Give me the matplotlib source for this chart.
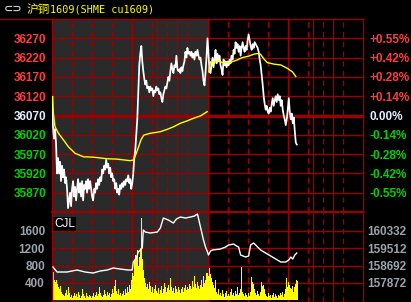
import matplotlib
matplotlib.use('Agg')
import matplotlib.pyplot as plt
import numpy as np
from matplotlib.lines import Line2D

# ---------------- data ----------------
title = '沪铜1609(SHME cu1609)'
ref_price = 36070
price_ticks = [35870, 35920, 35970, 36020, 36070, 36120, 36170, 36220, 36270]
vol_ticks = [400, 800, 1200, 1600]
oi_ticks = [157872, 158692, 159512, 160332]

day_len = 465                       # minutes per trading day (night + day session)
solid_marks = [240, 315, 375]       # session breaks within one day (minutes)
dashed_marks = [60, 120, 180, 300, 345, 405]
bar_minutes = 3

price_day1 = [36115, 36040, 36010, 36035, 36000, 35920, 35960, 35920, 35950, 35900,
              35940, 35910, 35930, 35895, 35910, 35880, 35830, 35850, 35870, 35835,
              35880, 35900, 35860, 35885, 35850, 35880, 35905, 35870, 35895, 35860,
              35900, 35850, 35890, 35880, 35900, 35870, 35905, 35880, 35900, 35880,
              35860, 35850, 35880, 35870, 35895, 35880, 35905, 35890, 35910, 35900,
              35930, 35920, 35940, 35930, 35955, 35935, 35945, 35920, 35935, 35910,
              35920, 35900, 35905, 35880, 35895, 35870, 35880, 35865, 35890, 35880,
              35895, 35885, 35900, 35890, 35905, 35900, 35915, 35895, 35905, 35880,
              35895, 35920, 35960, 35980, 36020, 36060, 36130, 36200, 36230, 36250,
              36210, 36185, 36165, 36150, 36160, 36140, 36145, 36130, 36145, 36135,
              36140, 36120, 36135, 36130, 36145, 36135, 36140, 36125, 36130, 36115,
              36105, 36125, 36135, 36145, 36140, 36155, 36170, 36160, 36185, 36205,
              36190, 36180, 36200, 36195, 36225, 36190, 36185, 36190, 36180, 36195,
              36185, 36200, 36210, 36235, 36220, 36245, 36230, 36235, 36225, 36235,
              36220, 36230, 36215, 36235, 36225, 36240, 36225, 36215, 36220, 36200,
              36185, 36160, 36148, 36180, 36220, 36270]
price_day2 = [36230, 36185, 36180, 36200, 36220, 36195, 36215, 36240, 36205, 36230,
              36210, 36225, 36200, 36190, 36175, 36215, 36200, 36210, 36195, 36210,
              36200, 36215, 36205, 36225, 36215, 36240, 36230, 36260, 36245, 36255,
              36235, 36250, 36225, 36245, 36260, 36245, 36235, 36250, 36240, 36265,
              36280, 36265, 36250, 36240, 36255, 36245, 36260, 36255, 36250, 36245,
              36235, 36215, 36200, 36175, 36150, 36120, 36100, 36085, 36095, 36080,
              36075, 36090, 36080, 36100, 36115, 36095, 36110, 36120, 36105, 36125,
              36110, 36120, 36095, 36110, 36085, 36070, 36060, 36045, 36060, 36085,
              36115, 36080, 36060, 36075, 36050, 36065, 36030, 36000, 35995]

avg1_t = [2, 4, 9, 19, 34, 49, 69, 94, 124, 164, 194, 234, 244, 252, 259, 266, 274,
          294, 324, 344, 364, 384, 404, 424, 444, 464]
avg1_p = [36119, 36076, 36041, 36024, 36007, 35989, 35972, 35963, 35962, 35958, 35957,
          35953, 35955, 35972, 35989, 36007, 36019, 36024, 36028, 36034, 36041, 36050,
          36056, 36063, 36069, 36080]
avg2_t = [469, 474, 483, 499, 509, 519, 534, 554, 569, 589, 604, 619, 624, 634, 644,
          664, 684, 704, 719, 729]
avg2_p = [36183, 36209, 36209, 36212, 36207, 36208, 36208, 36214, 36220, 36224, 36229,
          36231, 36228, 36216, 36207, 36203, 36201, 36192, 36183, 36171]

vol_day1 = [700, 650, 480, 420, 470, 380, 300, 260, 330, 200,
            150, 120, 90, 160, 240, 130, 300, 180, 80, 120,
            60, 100, 180, 90, 140, 70, 200, 120, 60, 100,
            250, 140, 90, 60, 180, 110, 70, 130, 90, 50,
            100, 160, 80, 120, 200, 90, 140, 300, 160, 110,
            80, 130, 230, 150, 90, 200, 120, 170, 80, 140,
            260, 180, 330, 470, 210, 150, 260, 120, 180, 90,
            150, 220, 130, 260, 180, 300, 200, 360, 250, 480,
            620, 560, 900, 1050, 980, 1150, 800, 1000, 1200, 1900,
            950, 700, 520, 400, 300, 380, 260, 420, 340, 200,
            300, 180, 260, 360, 210, 160, 280, 140, 230, 320,
            180, 250, 400, 300, 200, 280, 350, 240, 520, 300,
            220, 280, 180, 330, 260, 200, 300, 240, 180, 260,
            310, 200, 280, 350, 230, 300, 260, 380, 320, 250,
            450, 300, 550, 380, 280, 420, 330, 250, 350, 470,
            300, 560, 400, 480, 620, 550]
vol_day2 = [740, 600, 520, 430, 350, 280, 470, 200, 150, 260,
            120, 180, 90, 230, 140, 80, 160, 210, 100, 150,
            90, 200, 260, 130, 180, 90, 220, 150, 300, 120,
            170, 250, 770, 200, 140, 90, 180, 120, 80, 160,
            110, 200, 540, 420, 380, 250, 180, 120, 220, 150,
            90, 200, 430, 320, 360, 260, 140, 100, 70, 160,
            90, 130, 60, 120, 180, 80, 150, 100, 60, 130,
            90, 160, 120, 200, 80, 140, 260, 510, 300, 420,
            360, 280, 250, 330, 200, 300, 380, 470, 450]

oi_t = [3, 15, 30, 45, 60, 75, 99, 123, 144, 165, 183, 204, 228, 240, 243, 252, 258,
        270, 273, 279, 294, 315, 324, 333, 348, 363, 372, 384, 399, 414, 426, 435, 444,
        453, 459, 465, 468, 474, 480, 504, 519, 528, 543, 552, 558, 564, 579, 588, 594,
        603, 615, 624, 639, 654, 669, 684, 699, 708, 714, 720, 726, 732]
oi_v = [158627, 158391, 158391, 158391, 158438, 158485, 158391, 158343, 158438, 158485,
        158580, 158532, 158485, 158485, 158864, 159053, 159337, 159526, 160377, 160283,
        160235, 160283, 160472, 160945, 160850, 160708, 160897, 160992, 160945, 160992,
        161039, 161134, 160519, 159904, 159573, 159337, 159195, 159384, 159431, 159479,
        159573, 159668, 159715, 159620, 159573, 159195, 159100, 159148, 159668, 159763,
        159573, 159431, 159289, 159148, 159006, 158864, 158864, 158959, 159100, 159006,
        159195, 159289]

# ---------------- style ----------------
RED = '#9a0000'
GRAY_BG = '#2a2a2a'
TXT_RED = '#ff3c3c'
TXT_GREEN = '#00d000'
TXT_FLAT = '#e8eeff'
TXT_GRAY = '#9aa2aa'
LABEL_FONT = dict(family='Liberation Sans', weight='bold', size=8.5)

W, H = 411, 302
fig = plt.figure(figsize=(W / 100, H / 100), dpi=100, facecolor='black')


def fx(px):
    return px / W


def fy(py):
    return 1 - py / H


ax = fig.add_axes([fx(52), fy(212), fx(363) - fx(52), fy(19) - fy(212)])
axv = fig.add_axes([fx(52), fy(302), fx(363) - fx(52), fy(212) - fy(302)])

prices = price_day1 + price_day2
t_price = np.arange(len(prices)) * bar_minutes
vols = vol_day1 + vol_day2
t_vol = np.arange(len(vols)) * bar_minutes
total = 2 * day_len

solid_all = [d * day_len + m for d in range(2) for m in solid_marks] + [day_len]
dashed_all = [d * day_len + m for d in range(2) for m in dashed_marks]

for a in (ax, axv):
    a.set_facecolor('black')
    a.set_xlim(0, total)
    a.axvspan(0, day_len, color=GRAY_BG, zorder=0, lw=0)
    for m in solid_all:
        a.axvline(m, color=RED, lw=1.0, zorder=1)
    for m in dashed_all:
        a.axvline(m, color=RED, lw=1.0, ls=(0, (4, 3)), zorder=1)
    a.set_xticks([])
    for s in a.spines.values():
        s.set_color(RED)
        s.set_linewidth(1.0)

# ---- price panel ----
lo, hi = ref_price - 250, ref_price + 250
ax.set_ylim(lo, hi)
for p in price_ticks:
    if p == ref_price:
        ax.axhline(p, color=RED, lw=2.4, zorder=1)
    else:
        ax.axhline(p, color=RED, lw=1.0, zorder=1)
ax.spines['bottom'].set_linewidth(1.6)

ax.plot(t_price, prices, color='white', lw=1.25, zorder=3)
ax.plot(avg1_t, avg1_p, color='#ffff00', lw=1.0, zorder=4)
ax.plot(avg2_t, avg2_p, color='#ffff00', lw=1.0, zorder=4)


def pcolor(p):
    if p > ref_price:
        return TXT_RED
    if p < ref_price:
        return TXT_GREEN
    return TXT_FLAT


ax.set_yticks(price_ticks)
ax.set_yticklabels([str(p) for p in price_ticks], fontdict=LABEL_FONT)
ax.tick_params(axis='y', length=0, pad=4)
for lab, p in zip(ax.get_yticklabels(), price_ticks):
    lab.set_color(pcolor(p))

axr = ax.twinx()
axr.set_ylim(lo, hi)
axr.set_yticks(price_ticks)
pct = []
for p in price_ticks:
    v = (p - ref_price) / ref_price * 100
    pct.append('0.00%' if p == ref_price else f'{v:+.2f}%')
axr.set_yticklabels(pct, fontdict=LABEL_FONT)
axr.tick_params(axis='y', length=0, pad=5)
for lab, p in zip(axr.get_yticklabels(), price_ticks):
    lab.set_color(pcolor(p))
for s in axr.spines.values():
    s.set_visible(False)

# ---- volume panel ----
vlo, vhi = -39, 2038
axv.set_ylim(vlo, vhi)
for v in vol_ticks:
    axv.axhline(v, color=RED, lw=1.0, zorder=1)
axv.bar(t_vol, vols, width=bar_minutes, align='edge', color='#ffff00', lw=0, zorder=2)
axv.set_yticks(vol_ticks)
axv.set_yticklabels([str(v) for v in vol_ticks], fontdict=LABEL_FONT, color=TXT_GRAY)
axv.tick_params(axis='y', length=0, pad=5)

axo = axv.twinx()
oi_base = oi_ticks[0] - (oi_ticks[1] - oi_ticks[0])
oi_per_vol = (oi_ticks[1] - oi_ticks[0]) / (vol_ticks[1] - vol_ticks[0])
axo.set_ylim(oi_base + oi_per_vol * vlo, oi_base + oi_per_vol * vhi)
axo.plot(oi_t, oi_v, color='white', lw=1.0, zorder=3)
axo.set_yticks(oi_ticks)
axo.set_yticklabels([str(v) for v in oi_ticks], fontdict=LABEL_FONT, color=TXT_GRAY)
axo.tick_params(axis='y', length=0, pad=3)
for s in axo.spines.values():
    s.set_visible(False)

axv.text(0.008, 0.87, 'CJL', transform=axv.transAxes, color='white',
         fontsize=8.5, family='Liberation Sans', va='center', ha='left', zorder=6,
         bbox=dict(facecolor='black', edgecolor='none', pad=0.8))

# ---- header ----
fig.add_artist(Line2D([0, fx(52)], [fy(19), fy(19)], color=RED, lw=1.0))
fig.text(fx(4), fy(9), '⊂⊃', color='#c8c8c8', fontsize=8, weight='bold',
         family='DejaVu Sans', va='center', ha='left')
fig.text(fx(27), fy(9), title[:2], color='#ffff00', fontsize=8.4,
         family='Noto Sans CJK SC', va='center', ha='left')
fig.text(fx(50), fy(9), title[2:], color='#ffff00', fontsize=7.3,
         family='DejaVu Sans Mono', va='center', ha='left')

fig.savefig('out.png', dpi=100, facecolor='black')
